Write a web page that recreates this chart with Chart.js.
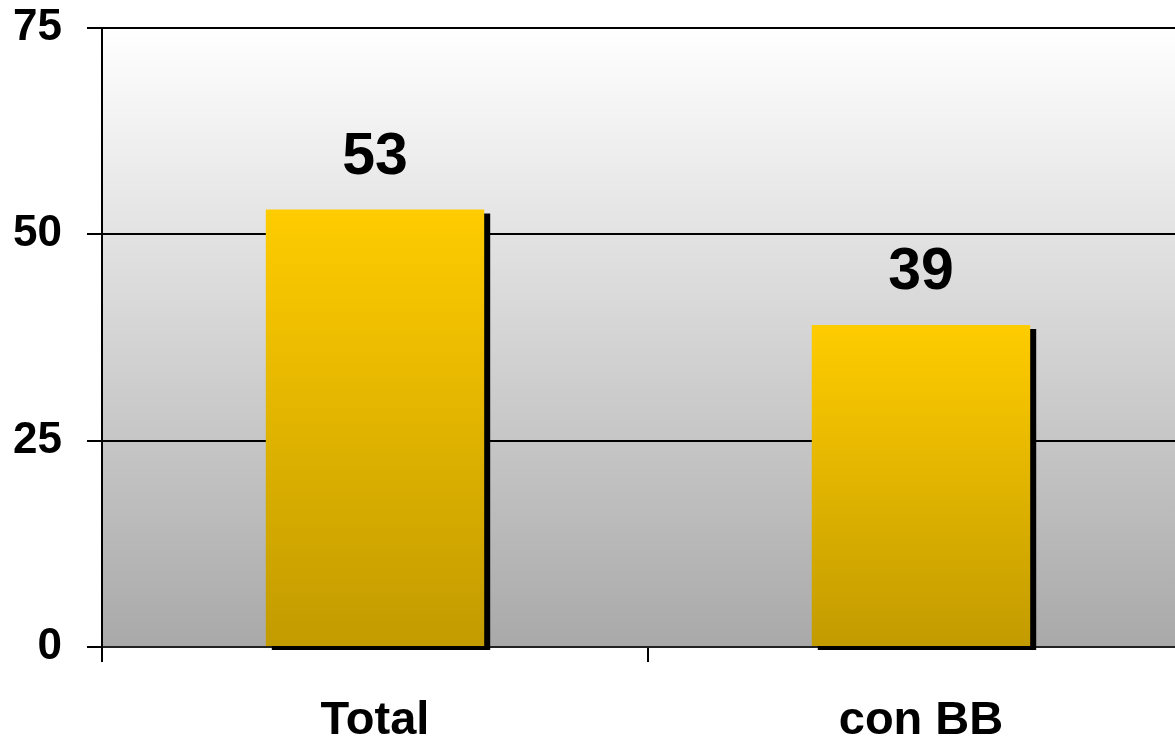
<!DOCTYPE html>
<html>
<head>
<meta charset="utf-8">
<script src="https://cdn.jsdelivr.net/npm/chart.js@4.4.1/dist/chart.umd.min.js"></script>
<style>
    html, body { margin: 0; padding: 0; background: #fff; overflow: hidden; }
    #wrap { width: 1194px; height: 737px; position: relative; }
</style>
</head>
<body>
<div id="wrap"><canvas id="bbChart"></canvas></div>
<script>
const categories = ['Total', 'con BB'];
const values = [53, 39];
const yTicks = [0, 25, 50, 75];

const FONT = '"Liberation Sans", Arial, sans-serif';

// 플롯 영역 회색 그라데이션 배경
const plotBackground = {
    id: 'plotBackground',
    beforeDraw(chart) {
        const { ctx, chartArea: a } = chart;
        const g = ctx.createLinearGradient(0, a.top, 0, a.bottom);
        g.addColorStop(0, '#ffffff');
        g.addColorStop(1, '#a9a9a9');
        ctx.save();
        ctx.fillStyle = g;
        ctx.fillRect(a.left, a.top, a.right - a.left, a.bottom - a.top);
        ctx.restore();
    }
};

// 막대 뒤 검은 그림자
const barShadow = {
    id: 'barShadow',
    beforeDatasetsDraw(chart) {
        const ctx = chart.ctx;
        ctx.save();
        ctx.shadowColor = '#000';
        ctx.shadowOffsetX = 6;
        ctx.shadowOffsetY = 4;
        ctx.shadowBlur = 0;
    },
    afterDatasetsDraw(chart) {
        chart.ctx.restore();
    }
};

// 막대 위 값 라벨
const valueLabels = {
    id: 'valueLabels',
    afterDatasetsDraw(chart) {
        const ctx = chart.ctx;
        const meta = chart.getDatasetMeta(0);
        ctx.save();
        ctx.font = 'bold 59px ' + FONT;
        ctx.fillStyle = '#000';
        ctx.textAlign = 'center';
        ctx.textBaseline = 'alphabetic';
        meta.data.forEach((bar, i) => {
            ctx.fillText(String(values[i]), bar.x, bar.y - 36);
        });
        ctx.restore();
    }
};

new Chart(document.getElementById('bbChart'), {
    type: 'bar',
    data: {
        labels: categories,
        datasets: [{
            data: values,
            backgroundColor: (c) => {
                const chart = c.chart;
                if (!chart.chartArea || c.parsed === undefined) return '#FFCC00';
                const y = chart.scales.y;
                const top = y.getPixelForValue(c.parsed.y);
                const bottom = y.getPixelForValue(0);
                const g = chart.ctx.createLinearGradient(0, top, 0, bottom);
                g.addColorStop(0, '#FFCC00');
                g.addColorStop(1, '#C29B00');
                return g;
            },
            borderWidth: 0,
            clip: false,
            categoryPercentage: 0.4,
            barPercentage: 1
        }]
    },
    options: {
        responsive: true,
        maintainAspectRatio: false,
        animation: false,
        layout: { padding: { top: 28, right: 0, left: 0, bottom: 0 } },
        scales: {
            x: {
                offset: true,
                grid: {
                    offset: true,
                    drawOnChartArea: false,
                    color: '#000',
                    lineWidth: 2,
                    tickLength: 15
                },
                border: { color: '#222', width: 2 },
                ticks: {
                    color: '#000',
                    padding: 31,
                    font: { family: FONT, size: 47, weight: 'bold' }
                },
                afterFit: (s) => { s.height = 90; }
            },
            y: {
                min: 0,
                max: 75,
                afterBuildTicks: (s) => { s.ticks = yTicks.map(v => ({ value: v })); },
                grid: {
                    color: '#000',
                    lineWidth: 2,
                    tickLength: 15
                },
                border: { color: '#000', width: 2 },
                ticks: {
                    color: '#000',
                    padding: 25,
                    font: { family: FONT, size: 44, weight: 'bold' }
                },
                afterFit: (s) => {
                    s.width = 102;
                    s.paddingTop = 0;
                    s.paddingBottom = 0;
                }
            }
        },
        plugins: {
            legend: { display: false },
            tooltip: { enabled: false }
        }
    },
    plugins: [plotBackground, barShadow, valueLabels]
});
</script>
</body>
</html>
